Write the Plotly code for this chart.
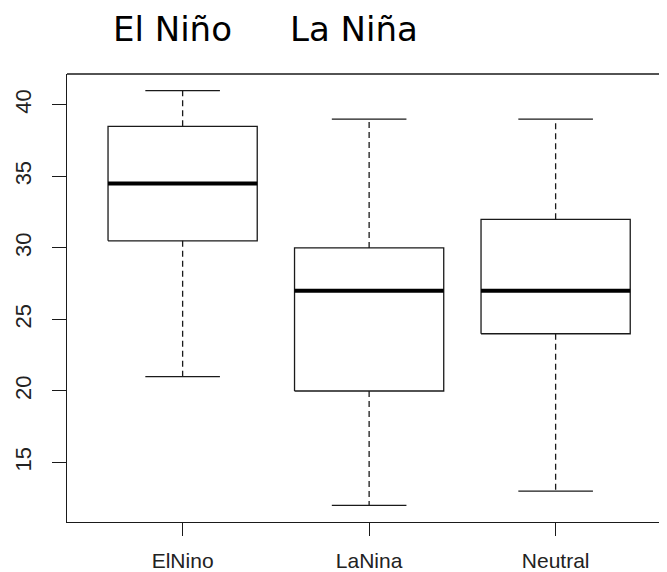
import plotly.graph_objects as go

categories = ["ElNino", "LaNina", "Neutral"]
lower_whisker = [21, 12, 13]
q1 = [30.5, 20, 24]
median = [34.5, 27, 27]
q3 = [38.5, 30, 32]
upper_whisker = [41, 39, 39]
y_ticks = [15, 20, 25, 30, 35, 40]
title_parts = ["El Niño", "La Niña"]

BOX_HALF = 0.4
CAP_HALF = 0.2
LINE = "#1a1a1a"

fig = go.Figure()
for i, cat in enumerate(categories):
    c = i + 1
    fig.add_trace(go.Scatter(
        x=[c - BOX_HALF, c + BOX_HALF, c + BOX_HALF, c - BOX_HALF, c - BOX_HALF],
        y=[q1[i], q1[i], q3[i], q3[i], q1[i]],
        mode="lines", line=dict(color=LINE, width=1.3),
        fill="toself", fillcolor="white", hoverinfo="skip", showlegend=False))
    fig.add_trace(go.Scatter(
        x=[c - BOX_HALF, c + BOX_HALF], y=[median[i], median[i]],
        mode="lines", line=dict(color="black", width=4),
        hoverinfo="skip", showlegend=False))
    fig.add_trace(go.Scatter(
        x=[c, c, None, c, c],
        y=[q3[i], upper_whisker[i], None, q1[i], lower_whisker[i]],
        mode="lines", line=dict(color=LINE, width=1.3, dash="6px,4px"),
        hoverinfo="skip", showlegend=False))
    fig.add_trace(go.Scatter(
        x=[c - CAP_HALF, c + CAP_HALF, None, c - CAP_HALF, c + CAP_HALF],
        y=[upper_whisker[i], upper_whisker[i], None, lower_whisker[i], lower_whisker[i]],
        mode="lines", line=dict(color=LINE, width=1.3),
        hoverinfo="skip", showlegend=False))

# page body has an 8px default margin; compensate
OFF = 8
W, H = 667 - OFF, 572 - OFF
ML, MT, MB, MR = 67 - OFF, 74 - OFF, 50, 0
plot_w = W - ML - MR
plot_h = H - MT - MB
px_per_cat = 186.5
x_lo = 0.38
x_hi = x_lo + plot_w / px_per_cat

def paper_x(px):
    return (px - OFF - ML) / plot_w

def paper_y(py):
    return 1 + (MT - (py - OFF)) / plot_h

title_x_px = [112, 289]
for txt, xp in zip(title_parts, title_x_px):
    fig.add_annotation(
        text=txt, x=paper_x(xp), y=paper_y(8.5), xref="paper", yref="paper",
        xanchor="left", yanchor="top", showarrow=False, borderpad=0,
        font=dict(family="DejaVu Sans", size=34, color="black"))

# top frame line (no right side: it falls outside the picture)
fig.add_shape(type="line", xref="paper", yref="paper", x0=0, x1=1, y0=1, y1=1,
              line=dict(color=LINE, width=1.3))

fig.update_layout(
    width=W, height=H,
    margin=dict(l=ML, r=MR, t=MT, b=MB, autoexpand=False),
    paper_bgcolor="white", plot_bgcolor="white",
    font=dict(family="Liberation Sans, Arial", color="#222"),
    xaxis=dict(
        range=[x_lo, x_hi], tickmode="array",
        tickvals=[1, 2, 3], ticktext=categories,
        showgrid=False, zeroline=False,
        showline=True, linecolor=LINE, linewidth=1.3, mirror=False,
        ticks="outside", ticklen=13, tickwidth=1.3, tickcolor=LINE,
        tickfont=dict(size=21), ticklabelstandoff=7),
    yaxis=dict(
        range=[10.84, 42.16], tickmode="array", tickvals=y_ticks,
        showgrid=False, zeroline=False,
        showline=True, linecolor=LINE, linewidth=1.3, mirror=False,
        ticks="outside", ticklen=14, tickwidth=1.3, tickcolor=LINE,
        tickangle=-90, tickfont=dict(size=22), ticklabelstandoff=12),
)

fig.write_html("out.html")
